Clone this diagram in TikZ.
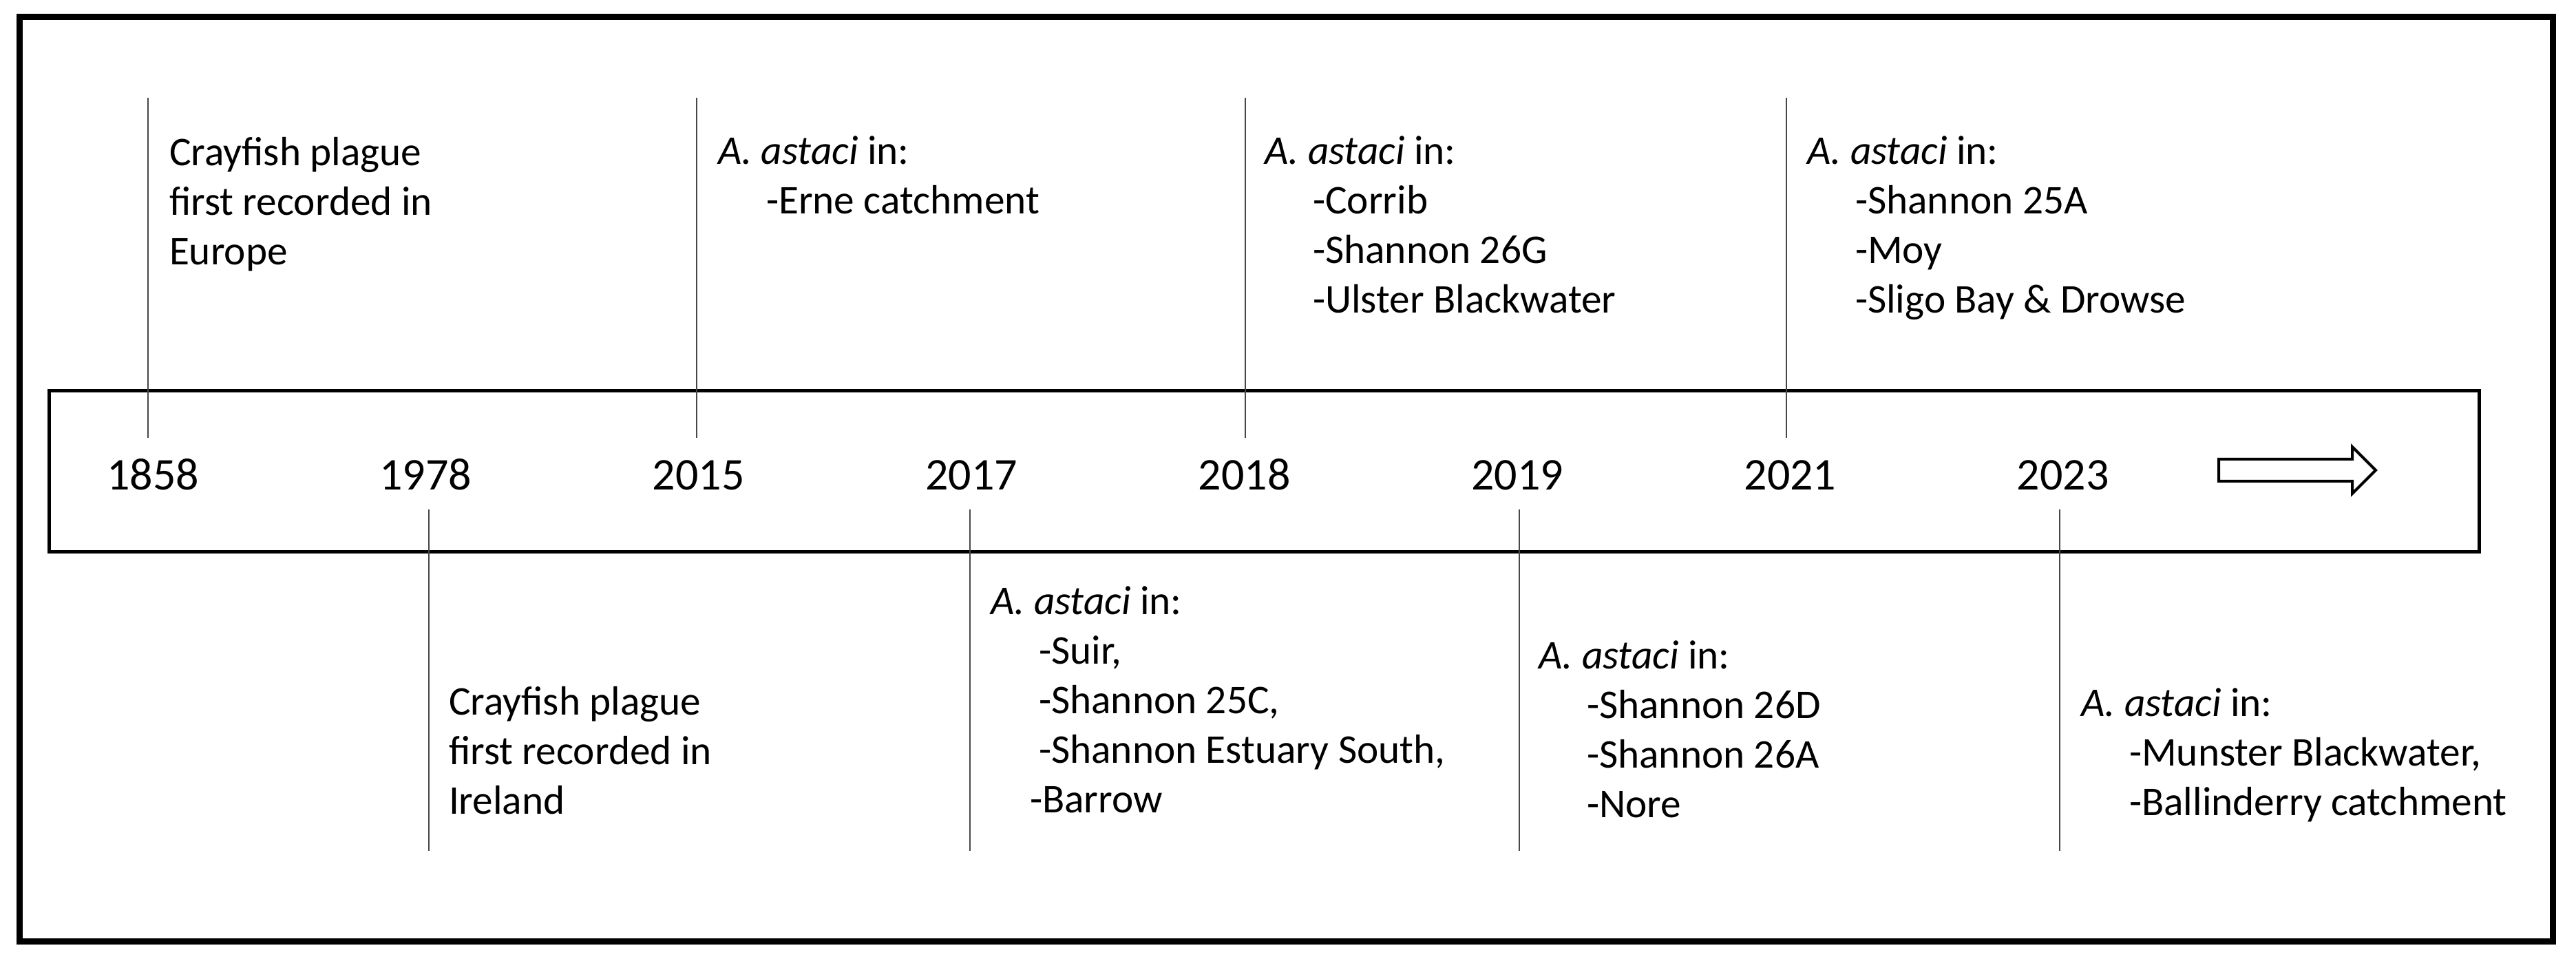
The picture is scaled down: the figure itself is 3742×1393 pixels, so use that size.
\documentclass[tikz,border=0pt]{standalone}
\usepackage{fontspec}
\setmainfont{Carlito}
\begin{document}
\begin{tikzpicture}[x=0.2pt,y=-0.2pt,
  frame/.style={draw=black,line width=1.8pt},
  axisbox/.style={draw=black,line width=1pt},
  tick/.style={draw=black!72,line width=0.55pt},
  year/.style={inner sep=0pt,anchor=base,font=\fontsize{13.2}{15}\selectfont},
  event/.style={inner sep=0pt,anchor=base west,font=\fontsize{11.86}{14.4}\selectfont},
  blockarrow/.style={draw=black,line width=0.8pt,fill=white,line join=miter}]
\useasboundingbox (0,0) rectangle (3742,1393);
% outer frame and timeline band
\draw[frame] (28,25) rectangle (3708,1368);
\draw[axisbox] (71,568) rectangle (3601,802);
% tick lines (named end points)
\foreach \i/\x in {1/215,2/1012,3/1809,4/2595}{
  \coordinate (up\i a) at (\x,142);
  \coordinate (up\i b) at (\x,636);
  \draw[tick] (up\i a) -- (up\i b);
}
\foreach \i/\x in {1/623,2/1409,3/2207,4/2992}{
  \coordinate (dn\i a) at (\x,740);
  \coordinate (dn\i b) at (\x,1236);
  \draw[tick] (dn\i a) -- (dn\i b);
}
% years
\foreach \yr [count=\i] in {1858,1978,2015,2017,2018,2019,2021,2023}{
  \node[year] (y\yr) at ({222+396.4*(\i-1)},712) {\yr};
}
% arrow
\draw[blockarrow] (3223,667) -- (3417,667) -- (3417,649) -- (3451,683)
  -- (3417,717) -- (3417,699) -- (3223,699) -- cycle;
% events above
\node[event] (e1858) at (245,241) {\begin{tabular}[t]{@{}l@{}}Crayfish plague\\first recorded in\\Europe\end{tabular}};
\node[event] (e2015) at (1042,239) {\begin{tabular}[t]{@{}l@{}}\textit{A. astaci} in:\\\hspace*{14pt}-Erne catchment\end{tabular}};
\node[event] (e2018) at (1836,239) {\begin{tabular}[t]{@{}l@{}}\textit{A. astaci} in:\\\hspace*{14pt}-Corrib\\\hspace*{14pt}-Shannon 26G\\\hspace*{14pt}-Ulster Blackwater\end{tabular}};
\node[event] (e2021) at (2624,239) {\begin{tabular}[t]{@{}l@{}}\textit{A. astaci} in:\\\hspace*{14pt}-Shannon 25A\\\hspace*{14pt}-Moy\\\hspace*{14pt}-Sligo Bay \& Drowse\end{tabular}};
% events below
\node[event] (e1978) at (651,1039) {\begin{tabular}[t]{@{}l@{}}Crayfish plague\\first recorded in\\Ireland\end{tabular}};
\node[event] (e2017) at (1438,893) {\begin{tabular}[t]{@{}l@{}}\textit{A. astaci} in:\\\hspace*{14pt}-Suir,\\\hspace*{14pt}-Shannon 25C,\\\hspace*{14pt}-Shannon Estuary South,\\\hspace*{11.4pt}-Barrow\end{tabular}};
\node[event] (e2019) at (2234,972) {\begin{tabular}[t]{@{}l@{}}\textit{A. astaci} in:\\\hspace*{14pt}-Shannon 26D\\\hspace*{14pt}-Shannon 26A\\\hspace*{14pt}-Nore\end{tabular}};
\node[event] (e2023) at (3022,1041) {\begin{tabular}[t]{@{}l@{}}\textit{A. astaci} in:\\\hspace*{14pt}-Munster Blackwater,\\\hspace*{14pt}-Ballinderry catchment\end{tabular}};
\end{tikzpicture}
\end{document}
